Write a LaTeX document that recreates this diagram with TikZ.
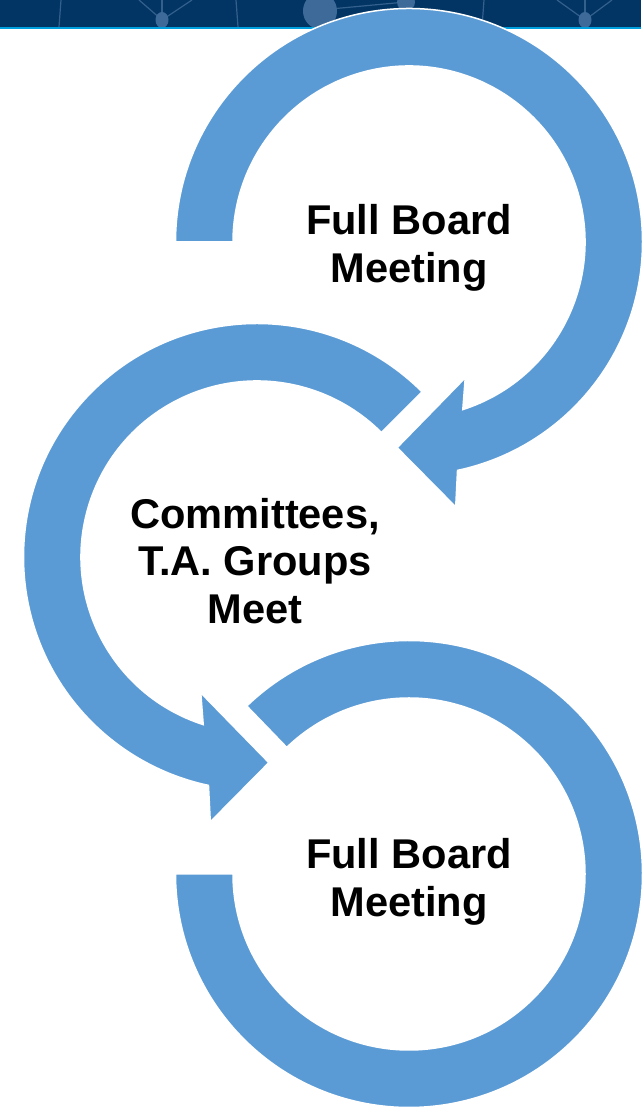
\documentclass[tikz,border=0pt]{standalone}
\usepackage{fontspec}
\setmainfont{Liberation Sans}
\usetikzlibrary{calc}
\definecolor{arrowblue}{HTML}{5B9BD5}
\definecolor{navy}{RGB}{2,53,99}
\definecolor{netline}{RGB}{52,96,142}
\definecolor{netnode}{RGB}{62,106,154}
\definecolor{cyanline}{RGB}{0,160,222}
\def\ROut{233.5}
\def\RIn{176}
\begin{document}
\begin{tikzpicture}[x=1pt,y=1pt,
  arrowshape/.style={fill=arrowblue,draw=white,line width=1.5pt,line join=miter},
  boxtext/.style={font=\fontsize{41.6}{47.8}\selectfont\bfseries,align=center,inner sep=0pt,text=black},
  netln/.style={draw=netline,line width=1.2pt},
  netnd/.style={fill=netnode}]
\useasboundingbox (0,0) rectangle (641,1107);
\fill[white] (0,0) rectangle (641,1107);
% banner (image coordinates)
\begin{scope}[shift={(0,1107)},yscale=-1]
  \begin{scope}
    \clip (0,0) rectangle (641,27);
    \fill[navy] (0,0) rectangle (641,27);
    \draw[netln] (61,0) -- (59,27);
    \draw[netln] (139,0) -- (162,20) -- (192,0);
    \draw[netln] (162,0) -- (162,20);
    \fill[netnd] (162,20) ellipse [x radius=6.5, y radius=8];
    \draw[netln] (236,0) -- (238,27);
    \draw[netln] (320,10) -- (406,2);
    \fill[netnd] (320,11) ellipse [x radius=17, y radius=18];
    \fill[netnd] (406,2) circle (9);
    \draw[netln] (484,0) -- (482,27);
    \draw[netln] (557,0) -- (585,20) -- (612,0);
    \draw[netln] (585,0) -- (585,20);
    \fill[netnd] (585,20) ellipse [x radius=6.5, y radius=8];
  \end{scope}
  \fill[cyanline] (0,27) rectangle (641,29);
\end{scope}
% circle centres
\coordinate (C1) at (409,865);
\coordinate (C2) at (257,550);
\coordinate (C3) at (409,233);
% top arrow
\path[arrowshape] ($(C1)+(180:\ROut)$) arc[start angle=180,end angle=-78,radius=\ROut]
  -- ($(C1)+(-80:269)$) -- ($(C1)+(-93.3:206)$) -- ($(C1)+(-67.5:147)$)
  -- ($(C1)+(-72.2:\RIn)$) arc[start angle=-72.2,end angle=180,radius=\RIn] -- cycle;
% middle arrow
\path[arrowshape] ($(C2)+(45:\ROut)$) arc[start angle=45,end angle=258,radius=\ROut]
  -- ($(C2)+(260:269)$) -- ($(C2)+(273.3:206)$) -- ($(C2)+(247.5:147)$)
  -- ($(C2)+(252.2:\RIn)$) arc[start angle=252.2,end angle=45,radius=\RIn] -- cycle;
% bottom arrow
\path[arrowshape] ($(C3)+(134:\ROut)$) arc[start angle=134,end angle=-180,radius=\ROut]
  -- ($(C3)+(180:\RIn)$) arc[start angle=-180,end angle=134,radius=\RIn] -- cycle;
% labels
\node[boxtext] (t1) at (409,859) {Full Board\\Meeting};
\node[boxtext] (t2) at (255,546) {Committees,\\T.A. Groups\\Meet};
\node[boxtext] (t3) at (409,225) {Full Board\\Meeting};
\end{tikzpicture}
\end{document}
